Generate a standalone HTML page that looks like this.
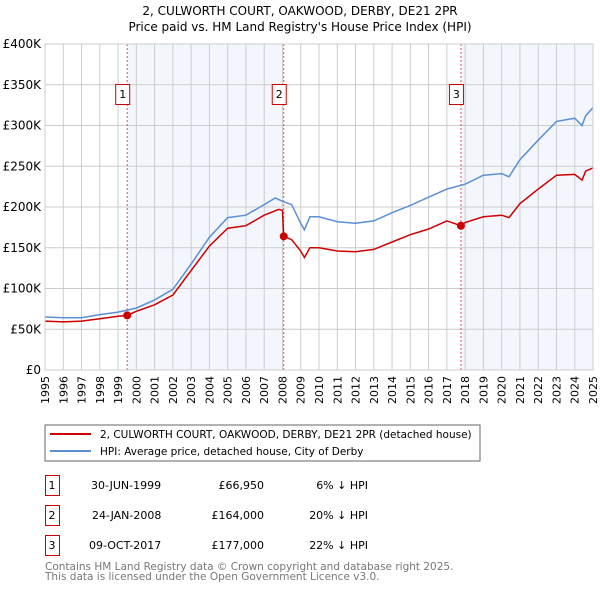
<!DOCTYPE html>
<html><head><meta charset="utf-8"><style>
body{margin:0;background:#fff;}
svg{display:block;font-family:"DejaVu Sans","Liberation Sans",sans-serif;}
</style></head><body>
<svg id="chart" width="600" height="590" viewBox="0 0 600 590">
<text x="300" y="15" text-anchor="middle" font-size="12">2, CULWORTH COURT, OAKWOOD, DERBY, DE21 2PR</text>
<text x="300" y="31" text-anchor="middle" font-size="12">Price paid vs. HM Land Registry's House Price Index (HPI)</text>
<g id="plot"></g>
<rect x="45" y="425" width="435" height="36" fill="#fff" stroke="#666"/>
<line x1="50" y1="434" x2="91" y2="434" stroke="#cc0000" stroke-width="2"/>
<text x="100" y="438" font-size="10.5">2, CULWORTH COURT, OAKWOOD, DERBY, DE21 2PR (detached house)</text>
<line x1="50" y1="451" x2="91" y2="451" stroke="#5b8fd4" stroke-width="2"/>
<text x="100" y="455" font-size="10.5">HPI: Average price, detached house, City of Derby</text>
<g font-size="11">
<rect x="45.5" y="475.5" width="14" height="20" fill="#fff" stroke="#cc0000"/><text x="52" y="489" text-anchor="middle">1</text>
<text x="91" y="489">30-JUN-1999</text><text x="264" y="489" text-anchor="end">£66,950</text><text x="368" y="489" text-anchor="end">6% ↓ HPI</text>
<rect x="45.5" y="505.5" width="14" height="20" fill="#fff" stroke="#cc0000"/><text x="52" y="519" text-anchor="middle">2</text>
<text x="92" y="519">24-JAN-2008</text><text x="264" y="519" text-anchor="end">£164,000</text><text x="368" y="519" text-anchor="end">20% ↓ HPI</text>
<rect x="45.5" y="535.5" width="14" height="20" fill="#fff" stroke="#cc0000"/><text x="52" y="549" text-anchor="middle">3</text>
<text x="89" y="549">09-OCT-2017</text><text x="264" y="549" text-anchor="end">£177,000</text><text x="368" y="549" text-anchor="end">22% ↓ HPI</text>
</g>
<text x="45" y="570" font-size="10.5" fill="#777">Contains HM Land Registry data © Crown copyright and database right 2025.</text>
<text x="45" y="580" font-size="10.5" fill="#777">This data is licensed under the Open Government Licence v3.0.</text>
</svg>
<script>
const hpiYears=[1995,1996,1997,1998,1999,2000,2001,2002,2003,2004,2005,2006,2007,2007.6,2008,2008.5,2009,2009.2,2009.5,2010,2011,2012,2013,2014,2015,2016,2017,2018,2019,2020,2020.4,2021,2022,2023,2024,2024.4,2024.6,2025];
const hpiValues=[65,64,64,68,71,76,86,99,130,163,187,190,203,211,207,203,180,172,188,188,182,180,183,193,202,212,222,228,239,241,237,258,282,305,309,300,312,322];
const propYears=[1995,1996,1997,1998,1999,1999.5,2000,2001,2002,2003,2004,2005,2006,2007,2007.8,2008.0,2008.07,2008.5,2009,2009.2,2009.5,2010,2011,2012,2013,2014,2015,2016,2017,2017.77,2018,2019,2020,2020.4,2021,2022,2023,2024,2024.4,2024.6,2025];
const propValues=[60,59,60,63,66,67,72,80,92,122,152,174,177,190,197,196,164,160,146,138,150,150,146,145,148,157,166,173,183,177,181,188,190,187,204,222,239,240,233,244,248];
const saleYears=[1999.5,2008.07,2017.77];
const saleValues=[66.95,164,177];
const saleLabels=["1","2","3"];
const yTicks=[0,50,100,150,200,250,300,350,400];
const yTickLabels=["£0","£50K","£100K","£150K","£200K","£250K","£300K","£350K","£400K"];
const xTicks=[1995,1996,1997,1998,1999,2000,2001,2002,2003,2004,2005,2006,2007,2008,2009,2010,2011,2012,2013,2014,2015,2016,2017,2018,2019,2020,2021,2022,2023,2024,2025];

const X0=45,X1=593,Y0=370,Y1=44;
const xs=y=>X0+(y-1995)/30*(X1-X0);
const ys=v=>Y0-v/400*(Y0-Y1);
const NS="http://www.w3.org/2000/svg";
const g=document.getElementById('plot');
function mk(t,a){const e=document.createElementNS(NS,t);for(const k in a)e.setAttribute(k,a[k]);g.appendChild(e);return e;}
let e;
e=mk('rect',{x:X0,y:Y1,width:X1-X0,height:Y0-Y1,fill:'#fff'});


e=mk('rect',{x:xs(saleYears[0]),y:Y1,width:xs(saleYears[1])-xs(saleYears[0]),height:Y0-Y1,fill:'#f3f6fd'});


e=mk('rect',{x:xs(saleYears[2]),y:Y1,width:X1-xs(saleYears[2]),height:Y0-Y1,fill:'#f3f6fd'});


xTicks.forEach(t=>{
 e=mk('line',{x1:xs(t),x2:xs(t),y1:Y1,y2:Y0,stroke:'#ccc','stroke-width':1});
 
 
 e=mk('text',{x:0,y:0,'font-size':11,'text-anchor':'end',transform:`translate(${xs(t)+4},${Y0+6}) rotate(-90)`});
 e.textContent=t;
 
 
});
yTicks.forEach((t,i)=>{
 e=mk('line',{x1:X0,x2:X1,y1:ys(t),y2:ys(t),stroke:'#ccc','stroke-width':1});
 
 
 e=mk('text',{x:X0-4,y:ys(t)+4,'font-size':12,'text-anchor':'end'});
 e.textContent=yTickLabels[i];
 
 
});
saleYears.forEach((s,i)=>{
 e=mk('line',{x1:xs(s),x2:xs(s),y1:Y1,y2:Y0,stroke:'#e05050','stroke-width':1,'stroke-dasharray':'2,2'});
 
 
});
function path(xa,va){return xa.map((x,i)=>(i?'L':'M')+xs(x).toFixed(1)+','+ys(va[i]).toFixed(1)).join('');}
e=mk('path',{d:path(hpiYears,hpiValues),fill:'none',stroke:'#5b8fd4','stroke-width':1.5});


e=mk('path',{d:path(propYears,propValues),fill:'none',stroke:'#cc0000','stroke-width':1.5});


saleYears.forEach((s,i)=>{
 e=mk('circle',{cx:xs(s),cy:ys(saleValues[i]),r:4,fill:'#cc0000'});
 
 
 e=mk('rect',{x:xs(s)-11.5,y:84.5,width:14,height:20,fill:'#fff',stroke:'#cc0000'});
 
 
 e=mk('text',{x:xs(s)-4.5,y:98,'font-size':11,'text-anchor':'middle'});
 e.textContent=saleLabels[i];
 
 
});
e=mk('rect',{x:X0,y:Y1,width:X1-X0,height:Y0-Y1,fill:'none',stroke:'#ccc'});


</script>
</body></html>
